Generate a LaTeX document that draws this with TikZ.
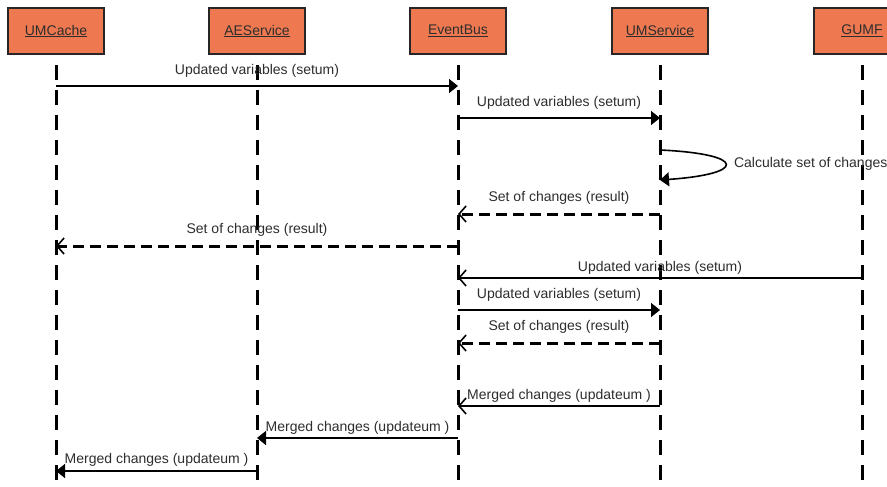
\documentclass[tikz,border=0pt]{standalone}
\usepackage{fontspec}
\setmainfont{Liberation Sans}
\usetikzlibrary{arrows.meta}
\definecolor{umorange}{RGB}{238,121,80}
\definecolor{umtext}{RGB}{45,45,45}

\begin{document}
\begin{tikzpicture}[x=1pt, y=-1pt,
obj/.style={rectangle, draw=black!85, fill=umorange, line width=2pt, minimum width=96pt, minimum height=46pt, inner sep=0pt, font=\fontsize{14}{16}\selectfont, text=umtext},
life/.style={line width=3pt, dash pattern=on 15pt off 10pt, dash phase=15pt},
msg/.style={line width=1.6pt, -{Triangle[length=9pt,width=14pt]}},
reply/.style={line width=1.6pt, -{Straight Barb[length=7pt,width=16pt]}},
ret/.style={line width=3pt, dash pattern=on 11pt off 6pt, -{Straight Barb[length=7pt,width=16pt,line width=1.6pt]}},
lbl/.style={midway, above=#1, inner sep=0pt, font=\fontsize{14}{16}\selectfont, text=umtext},
lbl/.default=8pt
]
        \useasboundingbox (0,0) rectangle (887,487);
        \clip (0,0) rectangle (887,487);

        \node [obj] (cache) at (56,31) {\underline{UMCache}};
        \node [obj] (aesvc) at (257,31) {\underline{AEService}};
        \node [obj] (bus) at (458,31) {\underline{EventBus}};
        \node [obj] (umsvc) at (660,31) {\underline{UMService}};
        \node [obj] (gumf) at (862,31) {\underline{GUMF}};

        \foreach \n in {cache,aesvc,bus,umsvc,gumf}
            \draw [life] (\n.south) -- (\n.south |- 0,487);

        \draw [msg] (cache |- 0,86) -- (bus |- 0,86) node [lbl] {Updated variables (setum)};
        \draw [msg] (bus |- 0,118) -- (umsvc |- 0,118) node [lbl] {Updated variables (setum)};

        \draw [msg] (umsvc |- 0,150) .. controls +(87,4) and +(87,-6) .. (umsvc |- 0,180)
            node [pos=0.5, right=8pt, inner sep=0pt, font=\fontsize{14}{16}\selectfont, text=umtext] {Calculate set of changes};

        \draw [ret] (umsvc |- 0,214) -- (bus |- 0,214) node [lbl] {Set of changes (result)};
        \draw [ret] (bus |- 0,246) -- (cache |- 0,246) node [lbl] {Set of changes (result)};

        \draw [reply] (gumf |- 0,278) -- (bus |- 0,278) node [lbl=3pt] {Updated variables (setum)};
        \draw [msg] (bus |- 0,310) -- (umsvc |- 0,310) node [lbl] {Updated variables (setum)};
        \draw [ret] (umsvc |- 0,343) -- (bus |- 0,343) node [lbl] {Set of changes (result)};

        \draw [reply] (umsvc |- 0,406) -- (bus |- 0,406) node [lbl=3pt] {Merged changes (updateum )};
        \draw [msg] (bus |- 0,438) -- (aesvc |- 0,438) node [lbl=3pt] {Merged changes (updateum )};
        \draw [msg] (aesvc |- 0,471) -- (cache |- 0,471) node [lbl=4pt] {Merged changes (updateum )};

 \end{tikzpicture}
\end{document}
